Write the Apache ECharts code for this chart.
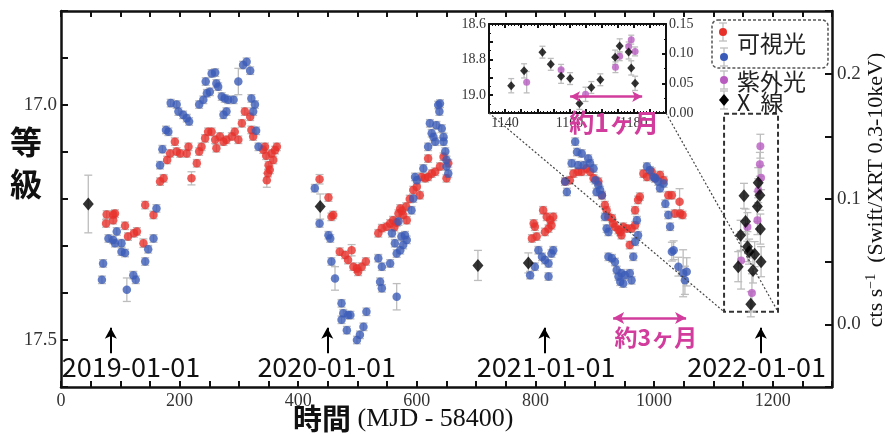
<!DOCTYPE html>
<html><head><meta charset="utf-8">
<script src="https://cdn.jsdelivr.net/npm/echarts@6/dist/echarts.min.js"></script>
<style>html,body{margin:0;padding:0;background:#fff}#c{width:885px;height:434px}</style>
</head><body><div id="c"></div>
<script>
// ---------- DATA ----------
// optical (visible) magnitudes: [MJD-58400, mag, err]
const opticalRed = [
 [77,17.233],[88,17.233],[91,17.231],[76,17.252],[88,17.245],
 [108,17.257],[113,17.280],[123,17.273],[128,17.269],[139,17.294,0.009],[142,17.213],[156,17.234],
 [167,17.163],[173,17.156],[179,17.117],[184,17.103],[192,17.078],[195,17.099],[201,17.103],[212,17.103],[215,17.089],
 [220,17.156,0.014],[229,17.124],[233,17.099],[237,17.089],[243,17.071],[248,17.057],[254,17.057],[260,17.074],[262,17.092],
 [268,17.067],[274,17.078],[279,17.074],[288,17.067],[293,17.057],[299,17.074],[305,17.039],[310,17.014],[319,17.025],
 [321,17.053],[324,17.067],
 [341,17.095],[344,17.089],[346,17.108],[347,17.160,0.015],[349,17.145],[350,17.128],[352,17.138],[355,17.103],[358,17.117],
 [361,17.096],[364,17.089],
 [436,17.158,0.01],[451,17.197],[456,17.238],[459,17.234],[470,17.312],[479,17.319],[484,17.330],[490,17.309,0.012],
 [493,17.344],[499,17.348],[501,17.355],[507,17.344],[514,17.333],[535,17.273],[541,17.262],[549,17.259],[555,17.252],
 [560,17.245],[562,17.260],[566,17.250],[569,17.231],[572,17.220],[575,17.225],[577,17.234],[582,17.216],[583,17.245],
 [588,17.200],[594,17.181],[600,17.174],[605,17.192],[608,17.153],[614,17.156],[619,17.153],[619,17.114],[625,17.146],
 [631,17.142],[639,17.131],[645,17.110],[650,17.156],[653,17.124],
 [794,17.284],[797,17.252],[799,17.259],[802,17.280],[813,17.224],[816,17.270],[819,17.238],[822,17.263],[825,17.245],
 [827,17.256],[830,17.238],
 [850,17.163],[858,17.160],[864,17.146],[872,17.142],[878,17.142],[886,17.135],[892,17.142],[898,17.156],[906,17.163],
 [912,17.192],[917,17.213],[920,17.224],[923,17.238],[929,17.241],[931,17.252],[934,17.259],[940,17.266],[943,17.270],
 [945,17.277],[948,17.259],[954,17.263],[959,17.298],[962,17.263],[968,17.256],[968,17.224],[973,17.202],[976,17.195],
 [982,17.146],[988,17.153],[996,17.142],[1002,17.156],[1010,17.149],[1016,17.160],[1024,17.192],[1030,17.192],
 [1035,17.231],[1043,17.206,0.028],[1044,17.231],[1048,17.234]
];
const opticalBlue = [
 [69,17.372],[71,17.337],[80,17.284],[88,17.287],[91,17.294],[94,17.269],[102,17.294],[102,17.312],[108,17.315],
 [111,17.393,0.025],[122,17.362],[126,17.372],[142,17.333],[147,17.307],[156,17.284],[161,17.220],[167,17.128],
 [171,17.094],[177,17.053],[181,17.057],[185,16.996],[195,16.999],[198,17.014],[206,17.021],[212,17.028],[216,17.035],
 [233,16.999],[240,16.989],[244,16.950],[246,16.975],[251,16.972],[254,16.933],[260,16.931],[262,16.954],[265,16.961],
 [271,16.982],[274,17.021],[276,16.986],[279,17.014],[282,16.989],[291,16.989],[299,16.950,0.028],[307,16.915],
 [313,16.908],[319,16.927],[321,16.986],[324,17.014],[327,16.999],[329,17.055],[333,17.089],
 [428,17.177],[436,17.252],[451,17.277],[454,17.284],[456,17.333],[462,17.369,0.025],[473,17.422],[476,17.443],
 [473,17.457],[482,17.479],[484,17.447],[488,17.447],[499,17.500],[504,17.489],[510,17.472],[515,17.440],[535,17.326],
 [538,17.376],[541,17.344],[541,17.390],[555,17.337],[558,17.273],[563,17.294],[566,17.316],[566,17.408,0.028],
 [569,17.248],[572,17.309],[574,17.280],[577,17.298],[580,17.277],[583,17.287],[591,17.224],[594,17.199],[597,17.153],
 [600,17.160],[611,17.135],[619,17.089],[622,17.039],[625,17.060],[628,17.068],[631,17.078],[633,17.043],[636,17.000],
 [638,17.014],[639,16.997],[642,17.050],[645,17.068],[645,17.078],[648,17.099],[650,17.117],[650,17.131],[653,17.146],
 [791,17.362],[799,17.344],[805,17.309],[811,17.323],[816,17.330],[822,17.337],[822,17.365],[827,17.316],[830,17.309],
 [850,17.163],[853,17.185],[861,17.124],[867,17.078],[870,17.100],[872,17.128],[878,17.103],[881,17.128],[889,17.114],
 [892,17.124],[898,17.135],[901,17.160],[903,17.185],[906,17.170],[909,17.181],[912,17.192],[917,17.238],[920,17.263],
 [923,17.270],[923,17.323],[929,17.326],[934,17.334],[937,17.351],[940,17.365],[943,17.376],[945,17.358],[948,17.380],
 [951,17.362],[959,17.358],[962,17.373],[965,17.323],[968,17.291],[971,17.245],[973,17.277],[988,17.131],[993,17.139],
 [999,17.153],[1002,17.156],[1007,17.163],[1010,17.177],[1016,17.167],[1019,17.210],[1024,17.234],[1027,17.259],
 [1030,17.312,0.02],[1033,17.309,0.02],[1041,17.344,0.02],[1049,17.358,0.05],[1052,17.373,0.03],[1055,17.355,0.03]
];
// UV magnitudes: [MJD-58400, mag, err]
const uvMag = [
 [1146.7,18.927,0.06],[1157.4,18.857,0.03],[1165.0,18.995,0.04],[1174.3,18.843,0.03],
 [1175.6,18.781,0.025],[1178.4,18.726,0.025],[1179.2,18.688,0.025],[1180.4,18.754,0.025]
];
// X-ray count rate: [MJD-58400, cts/s, err]
const xrayEarly = [[46,0.096,0.023],[437,0.094,0.01],[703,0.047,0.012],[788,0.049,0.008]];
const xrayCluster = [
 [1141.9,0.046,0.012],[1145.9,0.071,0.012],[1151.6,0.1025,0.01],[1154.2,0.082,0.01],[1157.4,0.062,0.012],
 [1160.2,0.058,0.01],[1163.1,0.016,0.01],[1166.8,0.043,0.01],[1169.6,0.056,0.01],[1174.2,0.094,0.012],
 [1175.6,0.113,0.012],[1178.4,0.103,0.012],[1179.2,0.076,0.012],[1180.4,0.050,0.012]
];
// tick labels
const xTickLabels = [0,200,400,600,800,1000,1200];
const magTickLabels = [17.0,17.5];
const ctsTickLabels = [0.0,0.1,0.2];
const insetXTickLabels = [1140,1160,1180];
const insetMagTickLabels = [18.6,18.8,19.0];
// annotations
const dateLabels = ['2019-01-01','2020-01-01','2021-01-01','2022-01-01'];
const dateArrowX = [84,449,815,1180];
const dateTextX = [118,448,818,1173];
const period3 = [931,1054];  // main arrow span
const period1 = [1160.2,1182.6]; // inset arrow span
const zoomBox = [1118,1209,0.010,0.168];

// ---------- STYLE ----------
const RED='#e8302a', BLUE='#3b5bb8', MAG='#b95cc0', BLK='#000', ERR='#bdbdbd', PINK='#d23c9c';
const SERIF='"Liberation Serif","Times New Roman",serif';
const SANS='"Noto Sans CJK JP","Noto Sans",sans-serif';
const DEF_ERR=0.008;

const chart = echarts.init(document.getElementById('c'), null, {renderer:'canvas'});

function errSeries(data, xi, yi, capW, z){
  return {type:'custom', xAxisIndex:xi, yAxisIndex:yi, silent:true, z:z||1, clip:true,
    data: data.map(d=>[d[0],d[1],d[2]!=null?d[2]:DEF_ERR]),
    encode:{x:0,y:1},
    renderItem:(p,api)=>{
      const x=api.value(0), y=api.value(1), e=api.value(2);
      const a=api.coord([x,y-e]), b=api.coord([x,y+e]);
      const st={stroke:ERR,lineWidth:1.3};
      return {type:'group',children:[
        {type:'line',shape:{x1:a[0],y1:a[1],x2:b[0],y2:b[1]},style:st},
        {type:'line',shape:{x1:a[0]-capW,y1:a[1],x2:a[0]+capW,y2:a[1]},style:st},
        {type:'line',shape:{x1:b[0]-capW,y1:b[1],x2:b[0]+capW,y2:b[1]},style:st}]};
    }};
}
const AX = {lineStyle:{color:'#111',width:2.5}};
const TK = (len)=>({show:true,inside:true,length:len,lineStyle:{color:'#111',width:2}});

const option = {
  animation:false,
  backgroundColor:'#fff',
  grid:[
    {left:61, top:11, width:771, height:376, show:false},
    {left:489, top:24, width:177, height:89, show:true, backgroundColor:'#fff', borderWidth:0, z:5}
  ],
  xAxis:[
    {gridIndex:0,type:'value',position:'bottom',min:0,max:1300,interval:50,
     axisLine:{show:true,onZero:false,...AX},axisTick:TK(6),splitLine:{show:false},
     axisLabel:{formatter:v=>xTickLabels.includes(v)?String(v):'',fontFamily:SERIF,fontSize:18,color:'#333',margin:5}},
    {gridIndex:0,type:'value',position:'top',min:0,max:1300,interval:50,
     axisLine:{show:true,onZero:false,...AX},axisTick:TK(6),splitLine:{show:false},axisLabel:{show:false}},
    {gridIndex:1,type:'value',position:'bottom',min:1135,max:1190,interval:5,z:6,
     axisLine:{show:true,onZero:false,lineStyle:{color:'#111',width:2}},axisTick:TK(4),
     minorTick:{show:true,splitNumber:5,length:2,lineStyle:{color:'#111',width:1}},splitLine:{show:false},
     axisLabel:{formatter:v=>insetXTickLabels.includes(v)?String(v):'',fontFamily:SERIF,fontSize:14,color:'#333',margin:3}},
    {gridIndex:1,type:'value',position:'top',min:1135,max:1190,interval:5,z:6,
     axisLine:{show:true,onZero:false,lineStyle:{color:'#111',width:2}},axisTick:TK(4),
     minorTick:{show:true,splitNumber:5,length:2,lineStyle:{color:'#111',width:1}},splitLine:{show:false},axisLabel:{show:false}}
  ],
  yAxis:[
    {gridIndex:0,type:'value',position:'left',inverse:true,min:16.8,max:17.6,interval:0.1,
     axisLine:{show:true,onZero:false,...AX},axisTick:TK(7),splitLine:{show:false},
     axisLabel:{formatter:v=>{const r=Math.round(v*10)/10;return magTickLabels.includes(r)?r.toFixed(1):'';},
       fontFamily:SERIF,fontSize:19,color:'#333',margin:4}},
    {gridIndex:0,type:'value',position:'right',min:-0.05,max:0.25,interval:0.05,
     axisLine:{show:true,onZero:false,...AX},axisTick:TK(7),splitLine:{show:false},
     axisLabel:{formatter:v=>{const r=Math.round(v*100)/100;return ctsTickLabels.includes(r)?r.toFixed(1):'';},
       fontFamily:SERIF,fontSize:19,color:'#333',margin:5}},
    {gridIndex:0,type:'value',show:false,inverse:true,min:18.405,max:19.192},
    {gridIndex:1,type:'value',position:'left',inverse:true,min:18.6,max:19.1,interval:0.1,z:6,
     axisLine:{show:true,onZero:false,lineStyle:{color:'#111',width:2}},axisTick:TK(4),
     minorTick:{show:true,splitNumber:2,length:2,lineStyle:{color:'#111',width:1}},splitLine:{show:false},
     axisLabel:{formatter:v=>{const r=Math.round(v*10)/10;return insetMagTickLabels.includes(r)?r.toFixed(1):'';},
       fontFamily:SERIF,fontSize:14,color:'#333',margin:3}},
    {gridIndex:1,type:'value',position:'right',min:0,max:0.15,interval:0.05,z:6,
     axisLine:{show:true,onZero:false,lineStyle:{color:'#111',width:2}},axisTick:TK(4),
     minorTick:{show:true,splitNumber:2,length:2,lineStyle:{color:'#111',width:1}},splitLine:{show:false},
     axisLabel:{formatter:v=>v.toFixed(2),fontFamily:SERIF,fontSize:14,color:'#333',margin:3}}
  ],
  series:[
    errSeries(opticalRed,0,0,4),
    errSeries(opticalBlue,0,0,4),
    {type:'scatter',xAxisIndex:0,yAxisIndex:0,data:opticalRed.map(d=>[d[0],d[1]]),symbol:'circle',symbolSize:8.5,
     itemStyle:{color:RED},z:3,silent:true,
     markLine:{silent:true,symbol:['none','arrow'],symbolSize:[9,11],label:{show:false},
       lineStyle:{color:'#000',width:2,type:'solid'},
       data:dateArrowX.map(x=>[{coord:[x,17.528]},{coord:[x,17.474]}])}},
    {type:'scatter',xAxisIndex:0,yAxisIndex:0,data:opticalBlue.map(d=>[d[0],d[1]]),symbol:'circle',symbolSize:8.5,
     itemStyle:{color:BLUE},z:4,silent:true,
     markLine:{silent:true,symbol:['arrow','arrow'],symbolSize:[9,11],label:{show:false},
       lineStyle:{color:PINK,width:2.5,type:'solid'},
       data:[[{coord:[period3[0],17.453]},{coord:[period3[1],17.453]}]]}},
    errSeries(uvMag,0,2,4),
    {type:'scatter',xAxisIndex:0,yAxisIndex:2,data:uvMag.map(d=>[d[0],d[1]]),symbol:'circle',symbolSize:8,
     itemStyle:{color:MAG},z:5,silent:true},
    errSeries(xrayEarly.concat(xrayCluster),0,1,4),
    {type:'scatter',xAxisIndex:0,yAxisIndex:1,data:xrayEarly.concat(xrayCluster).map(d=>[d[0],d[1]]),
     symbol:'diamond',symbolSize:[11,13],itemStyle:{color:BLK},z:6,silent:true,
     markArea:{silent:true,itemStyle:{color:'rgba(0,0,0,0)',borderColor:'#333',borderWidth:2,borderType:[5,3]},
       data:[[{coord:[zoomBox[0],zoomBox[3]]},{coord:[zoomBox[1],zoomBox[2]]}]]}},
    errSeries(uvMag,2,3,3,7),
    {type:'scatter',xAxisIndex:2,yAxisIndex:3,data:uvMag.map(d=>[d[0],d[1]]),symbol:'circle',symbolSize:7,
     itemStyle:{color:MAG},z:8,silent:true,
     markLine:{silent:true,symbol:['arrow','arrow'],symbolSize:[8,10],label:{show:false},z:9,
       lineStyle:{color:PINK,width:2.5,type:'solid'},
       data:[[{coord:[period1[0],19.008]},{coord:[period1[1],19.008]}]]}},
    errSeries(xrayCluster,2,4,3,7),
    {type:'scatter',xAxisIndex:2,yAxisIndex:4,data:xrayCluster.map(d=>[d[0],d[1]]),symbol:'diamond',symbolSize:[8,9],
     itemStyle:{color:BLK},z:8,silent:true}
  ]
};
chart.setOption(option);

const P=(xi,yi,v)=>chart.convertToPixel({xAxisIndex:xi,yAxisIndex:yi},v);
const G=[];
// date arrows text
dateLabels.forEach((t,i)=>{
  const p=P(0,0,[dateTextX[i],17.557]);
  G.push({type:'text',z:20,style:{text:t,x:p[0],y:p[1],align:'center',verticalAlign:'middle',
    font:'27px '+SANS,fill:'#111'}});
});
// period labels
{ const p=P(0,0,[1003,17.494]);
  G.push({type:'text',z:20,style:{text:'約3ヶ月',x:p[0],y:p[1],align:'center',verticalAlign:'middle',font:'bold 23px '+SANS,fill:PINK}}); }
{ const p=P(0,0,[932.5,17.038]);
  G.push({type:'text',z:20,style:{text:'約1ヶ月',x:p[0],y:p[1],align:'center',verticalAlign:'middle',font:'bold 25px '+SANS,fill:PINK}}); }
// dotted connector lines
{ const a=P(2,3,[1135,19.1]), b=P(2,3,[1190,19.1]);
  const c=P(0,1,[zoomBox[0],zoomBox[2]]), d=P(0,1,[zoomBox[1],zoomBox[2]]);
  const ls={stroke:'#444',lineWidth:1.2,lineDash:[2,2]};
  G.push({type:'line',z:15,shape:{x1:a[0],y1:a[1],x2:c[0],y2:c[1]},style:ls});
  G.push({type:'line',z:15,shape:{x1:b[0],y1:b[1],x2:d[0],y2:d[1]},style:ls});
}
// legend
G.push({type:'rect',z:20,shape:{x:712,y:20,width:116,height:48,r:6},style:{fill:'#fff',stroke:'#555',lineWidth:1.5,lineDash:[3,2]}});
const legMarks=[[723,32,RED,'circle'],[724,57,BLUE,'circle'],[724,80,MAG,'circle'],[724,100,BLK,'diamond']];
legMarks.forEach(m=>{
  const st={stroke:ERR,lineWidth:1.3};
  G.push({type:'line',z:21,shape:{x1:m[0],y1:m[1]-9,x2:m[0],y2:m[1]+9},style:st});
  G.push({type:'line',z:21,shape:{x1:m[0]-4,y1:m[1]-9,x2:m[0]+4,y2:m[1]-9},style:st});
  G.push({type:'line',z:21,shape:{x1:m[0]-4,y1:m[1]+9,x2:m[0]+4,y2:m[1]+9},style:st});
  if(m[3]==='circle') G.push({type:'circle',z:22,shape:{cx:m[0],cy:m[1],r:4},style:{fill:m[2]}});
  else G.push({type:'polygon',z:22,shape:{points:[[m[0],m[1]-6],[m[0]+5,m[1]],[m[0],m[1]+6],[m[0]-5,m[1]]]},style:{fill:m[2]}});
});
[['可視光',43],['紫外光',81],['X  線',102]].forEach(t=>{
  G.push({type:'text',z:22,style:{text:t[0],x:737,y:t[1],align:'left',verticalAlign:'middle',font:'23px '+SANS,fill:'#222'}});
});
// axis titles
G.push({type:'text',z:20,style:{text:'等\n級',x:26,y:163,align:'center',verticalAlign:'middle',
  font:'bold 32px '+SANS,lineHeight:42,fill:'#111'}});
G.push({type:'text',z:20,style:{x:293,y:419,align:'left',verticalAlign:'middle',
  text:'{a|時間}{b| (MJD - 58400)}',
  rich:{a:{font:'bold 29px '+SANS,fill:'#111'},b:{font:'26px '+SERIF,fill:'#111'}}}});
G.push({type:'text',z:20,x:876,y:190,rotation:Math.PI/2,style:{x:0,y:0,align:'center',verticalAlign:'middle',
  text:'{n|cts s}{s|−1}{n|  (Swift/XRT 0.3-10keV)}',
  rich:{n:{font:'22px '+SERIF,fill:'#111',lineHeight:23},s:{font:'14px '+SERIF,fill:'#111',verticalAlign:'top',lineHeight:15}}}});
chart.setOption({graphic:G});
</script></body></html>
